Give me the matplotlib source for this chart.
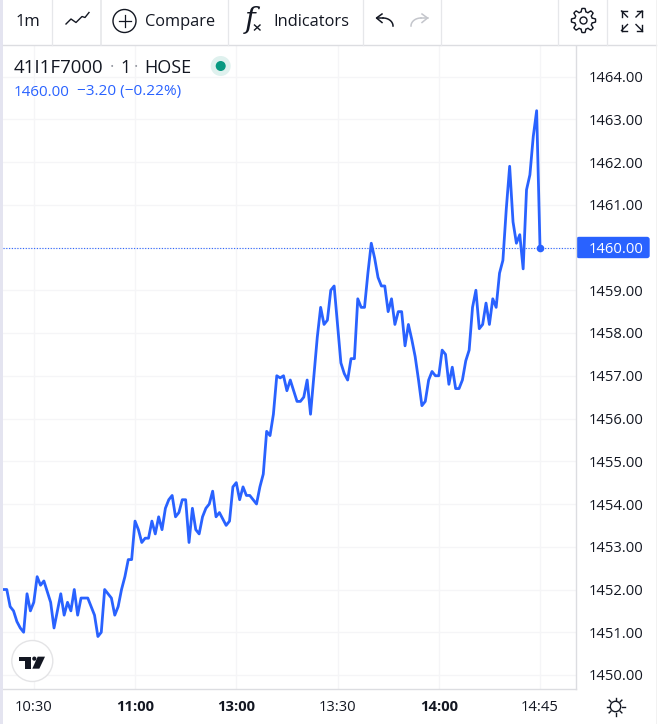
import numpy as np
import matplotlib
matplotlib.use("Agg")
import matplotlib.pyplot as plt
from matplotlib.patches import Circle, FancyBboxPatch, Polygon, Rectangle

plt.rcParams['font.family'] = ['Open Sans', 'DejaVu Sans']

#one close per minute bar
prices = [
    1452.0, 1452.0, 1451.6, 1451.5, 1451.25, 1451.1, 1451.0, 1451.9, 1451.5, 1451.7,
    1452.3, 1452.1, 1452.2, 1451.95, 1451.7, 1451.1, 1451.5, 1451.9, 1451.4, 1451.7,
    1451.5, 1452.0, 1451.4, 1451.8, 1451.8, 1451.8, 1451.6, 1451.4, 1450.9, 1451.0,
    1452.0, 1451.9, 1451.8, 1451.4, 1451.6, 1452.0, 1452.3, 1452.7, 1452.7, 1453.6,
    1453.4, 1453.1, 1453.2, 1453.2, 1453.6, 1453.3, 1453.7, 1453.4, 1453.9, 1454.1,
    1454.2, 1453.7, 1453.8, 1454.1, 1454.1, 1453.1, 1453.9, 1453.4, 1453.3, 1453.7,
    1453.9, 1454.0, 1454.3, 1453.7, 1453.8, 1453.65, 1453.5, 1453.6, 1454.4, 1454.5,
    1454.1, 1454.4, 1454.2, 1454.2, 1454.1, 1454.0, 1454.4, 1454.7, 1455.7, 1455.6,
    1456.1, 1457.0, 1456.95, 1457.0, 1456.65, 1456.9, 1456.65, 1456.4, 1456.4, 1456.5,
    1456.9, 1456.1, 1457.0, 1457.9, 1458.6, 1458.2, 1458.3, 1459.0, 1459.1, 1458.2,
    1457.3, 1457.05, 1456.9, 1457.4, 1457.4, 1458.8, 1458.6, 1458.6, 1459.4, 1460.1,
    1459.75, 1459.3, 1459.1, 1459.1, 1458.5, 1458.8, 1458.2, 1458.5, 1458.5, 1457.7,
    1458.2, 1457.85, 1457.45, 1456.9, 1456.3, 1456.4, 1456.9, 1457.1, 1457.0, 1457.0,
    1457.6, 1457.5, 1456.8, 1457.2, 1456.7, 1456.7, 1456.9, 1457.35, 1457.6, 1458.6,
    1459.0, 1458.1, 1458.2, 1458.7, 1458.2, 1458.8, 1458.6, 1459.4, 1459.7, 1460.9,
    1461.9, 1460.6, 1460.1, 1460.3, 1459.5, 1461.35, 1461.7, 1462.6, 1463.2, 1460.0,
]
time_ticks = [9, 39, 69, 99, 129, 159]
time_labels = ['10:30', '11:00', '13:00', '13:30', '14:00', '14:45']
bold_times = ['11:00', '13:00', '14:00']
price_ticks = [1450, 1451, 1452, 1453, 1454, 1455, 1456, 1457, 1458, 1459, 1460, 1461, 1462, 1463, 1464]
last_price = 1460.0

BLUE = '#2962ff'
DARK = '#131722'
GRID = '#f5f5f7'
EDGE = '#dcdde1'

W, H = 662, 724
fig = plt.figure(figsize=(W / 100, H / 100), dpi=100)

#chart area, in pixels of the picture
L, R, T, B = 3, 576, 46, 689
ax = fig.add_axes([L / W, 1 - B / H, (R - L) / W, (B - T) / H])
ax.set_xlim((L - 3.4) / 3.375, (R - 3.4) / 3.375)
ax.set_ylim(1464 - (B - 76.5) / 42.75, 1464 + (76.5 - T) / 42.75)

bars = np.arange(len(prices))
ax.plot(bars, prices, color=BLUE, lw=2.0, solid_joinstyle='round', zorder=3)
ax.plot(bars[-1], prices[-1], 'o', color=BLUE, ms=5.5, mew=0, zorder=4)
ax.axhline(last_price, color=BLUE, lw=0.8, ls=(0, (1, 1.5)), zorder=2)

ax.set_xticks(time_ticks)
ax.set_xticklabels(time_labels, fontsize=10.6, color=DARK)
for lab in ax.get_xticklabels():
    if lab.get_text() in bold_times:
        lab.set_fontweight('bold')
ax.set_yticks(price_ticks)
ax.set_yticklabels(['%.2f' % p for p in price_ticks], fontsize=10.6, color=DARK)
ax.yaxis.tick_right()
ax.tick_params(axis='x', length=0, pad=8)
ax.tick_params(axis='y', length=0, pad=9)
for lab in ax.get_yticklabels():
    if lab.get_text() == '%.2f' % last_price:
        lab.set_color('white')
ax.grid(True, color=GRID, lw=1)
ax.set_axisbelow(True)
for s in ['top', 'left']:
    ax.spines[s].set_visible(False)
for s in ['right', 'bottom']:
    ax.spines[s].set_color(EDGE)
    ax.spines[s].set_linewidth(1)

#everything around the chart is drawn on a pixel overlay
ui = fig.add_axes([0, 0, 1, 1], zorder=5)
ui.set_xlim(0, W)
ui.set_ylim(H, 0)
ui.axis('off')
ui.patch.set_alpha(0)

#price label of the last bar, sits under the tick label
ax.add_patch(FancyBboxPatch((577, 237.5), 72, 20, boxstyle='round,pad=0,rounding_size=2',
                            fc=BLUE, ec=BLUE, lw=1, zorder=0.4, clip_on=False,
                            transform=ui.transData))

ui.add_patch(Rectangle((0, 0), 2.5, H, color='#e4e4f0', lw=0))
ui.plot([3, 656], [45, 45], color=EDGE, lw=1)
ui.plot([656, 656], [0, H], color='#f0f0f0', lw=0.6)
for sx in [52, 100.5, 228, 363, 441, 558, 607]:
    ui.plot([sx, sx], [0, 45], color='#e6e7ea', lw=1.2 if sx == 100.5 else 0.9)

#toolbar texts
ui.text(16, 22, '1m', fontsize=12, color=DARK, va='center')
ui.text(145, 22, 'Compare', fontsize=11.8, color=DARK, va='center')
ui.text(273, 22, 'Indicators', fontsize=11.8, color=DARK, va='center')

#legend
ui.text(14, 68, '41I1F7000', fontsize=13.4, color=DARK, va='center')
ui.text(110, 68, '·', fontsize=12, color='#9598a1', va='center')
ui.text(120, 68, '1', fontsize=13, color=DARK, va='center')
ui.text(134, 68, '·', fontsize=12, color='#9598a1', va='center')
ui.text(144, 68, 'HOSE', fontsize=13, color=DARK, va='center')
ui.text(14, 92, '1460.00', fontsize=10.9, color=BLUE, va='center')
ui.text(77, 92, '\u22123.20 (\u22120.22%)', fontsize=11.1, color=BLUE, va='center')
ui.add_patch(Circle((220.7, 66), 10, fc='#dff1ee', ec='none'))
ui.add_patch(Circle((220.7, 66), 5, fc='#089981', ec='none'))

#line style icon
ui.plot([66, 71, 76, 82, 85, 89], [24, 19, 22.5, 16.5, 17.5, 12.5], color=DARK, lw=1)

#compare icon
ui.add_patch(Circle((124.5, 21), 11.5, fc='none', ec=DARK, lw=1))
ui.plot([118.5, 130.5], [21, 21], color=DARK, lw=0.9)
ui.plot([124.5, 124.5], [15, 27], color=DARK, lw=0.9)

#indicators icon
ui.text(250, 20, 'f', fontsize=21, family='DejaVu Serif', style='italic', color=DARK,
        ha='center', va='center')
ui.plot([254.5, 260], [25, 30], color=DARK, lw=1)
ui.plot([254.5, 260], [30, 25], color=DARK, lw=1)

#undo, redo
a = np.linspace(-np.pi / 2, 0, 20)
ui.plot(383 + 10 * np.cos(a), 26 + 8 * np.sin(a), color=DARK, lw=1.1)
ui.plot([376.5, 383], [18, 18], color=DARK, lw=1.1)
ui.plot([382, 376.5, 382], [14, 18, 22.5], color=DARK, lw=1.1)
ui.plot(421 - 10 * np.cos(a), 26 + 8 * np.sin(a), color='#c4c6cc', lw=1.1)
ui.plot([427.5, 421], [18, 18], color='#c4c6cc', lw=1.1)
ui.plot([422, 427.5, 422], [14, 18, 22.5], color='#c4c6cc', lw=1.1)

#gear icon
t = np.linspace(0, 2 * np.pi, 97)
r = 10.5 + 1.6 * np.clip(3 * np.cos(8 * t), -1, 1)
ui.add_patch(Polygon(np.c_[583.5 + r * np.sin(t), 20.5 + r * np.cos(t)], closed=True,
                     fc='none', ec=DARK, lw=1, joinstyle='round'))
ui.add_patch(Circle((583.5, 20.5), 3.5, fc='none', ec=DARK, lw=1))

#fullscreen icon
for ox, oy, dx, dy in [(621.5, 11, -1, -1), (642, 11, 1, -1), (621.5, 30.5, -1, 1), (642, 30.5, 1, 1)]:
    ui.plot([ox, ox - dx * 6], [oy, oy - dy * 6], color=DARK, lw=1)
    ui.plot([ox, ox - dx * 5.5], [oy, oy], color=DARK, lw=1)
    ui.plot([ox, ox], [oy, oy - dy * 5.5], color=DARK, lw=1)

#theme sun icon
ui.add_patch(Circle((615.5, 706.5), 5.2, fc='none', ec=DARK, lw=1))
for ang in np.arange(0, 2 * np.pi, np.pi / 4):
    ui.plot([615.5 + 6.6 * np.cos(ang), 615.5 + 9 * np.cos(ang)],
            [706.5 + 6.6 * np.sin(ang), 706.5 + 9 * np.sin(ang)], color=DARK, lw=1)

#logo badge
ui.add_patch(Circle((32.3, 661), 20.5, fc='white', ec='#e4e4e6', lw=1))
gx = lambda v: np.array(v) / 3
gy = lambda v: 480 + np.array(v) / 3
ui.add_patch(Polygon(np.c_[gx([58, 92, 92, 75, 75, 58]), gy([530, 530, 566, 566, 543, 543])],
                     closed=True, fc=DARK, ec='none'))
ui.add_patch(Polygon(np.c_[gx([113, 135, 118, 97]), gy([530, 530, 566, 566])],
                     closed=True, fc=DARK, ec='none'))
ui.add_patch(Circle((gx(103), gy(536)), 2.1, fc=DARK, ec='none'))

fig.savefig('out.png', dpi=100)
